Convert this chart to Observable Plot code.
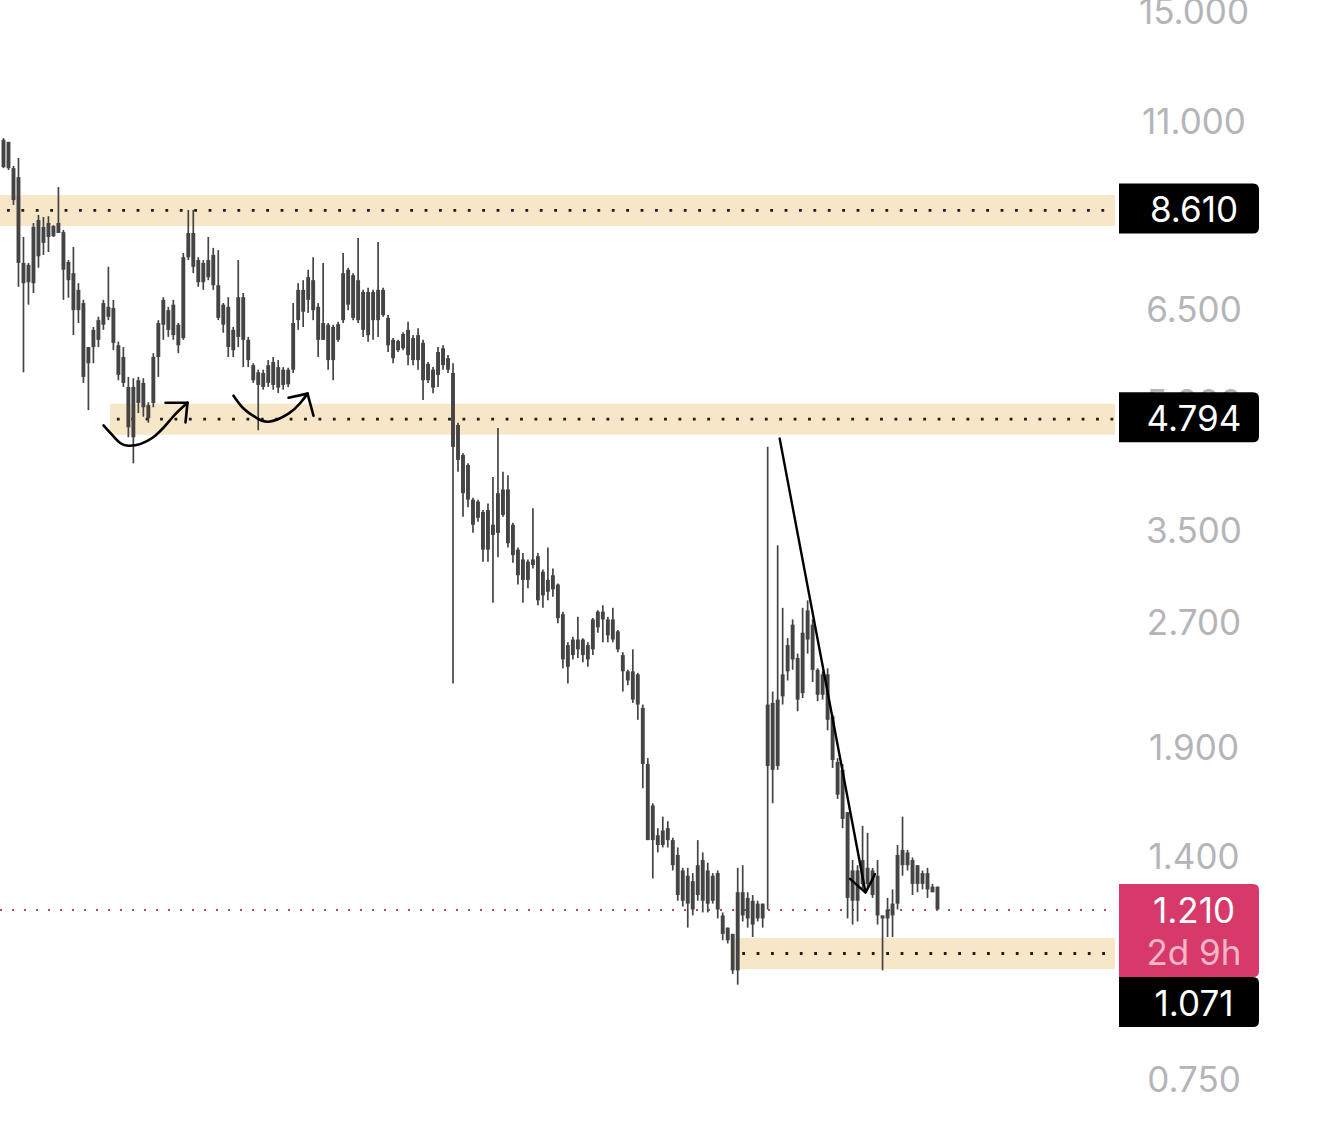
<!DOCTYPE html>
<html><head><meta charset="utf-8">
<script src="https://cdn.jsdelivr.net/npm/d3@7"></script>
<script src="https://cdn.jsdelivr.net/npm/@observablehq/plot@0.6"></script>
<style>
html,body{margin:0;padding:0;background:#fff;}
#chart{width:1320px;height:1146px;overflow:hidden;}
</style></head><body><div id="chart"></div>
<script>
// Candle values (one candle per index)
const high = [
10.53,10.42,9.74,9.96,7.98,7.42,8.30,8.49,8.44,8.46,
8.25,9.18,8.14,7.48,7.76,7.01,6.69,5.86,6.20,6.38,
6.69,7.34,6.69,5.95,5.86,5.39,5.37,5.39,5.37,5.02,
5.76,6.32,6.74,6.56,6.69,6.27,7.63,8.61,8.61,7.54,
7.48,7.98,7.74,7.69,6.63,6.74,6.20,7.48,6.82,6.03,
5.60,5.50,5.50,5.65,5.70,5.65,5.54,5.53,6.63,7.01,
7.07,7.28,7.54,6.63,7.42,6.27,6.24,6.29,7.63,7.32,
7.21,7.96,6.88,6.92,6.88,7.87,6.92,6.41,6.01,5.98,
6.11,6.29,6.06,6.18,5.98,5.62,5.54,5.86,5.89,5.73,
5.60,4.74,4.35,4.23,3.84,3.82,3.71,3.78,4.07,4.67,
4.13,4.09,3.58,3.34,3.29,3.23,3.73,3.29,3.14,3.34,
3.15,3.02,2.79,2.56,2.60,2.75,2.59,2.56,2.74,2.80,
2.84,2.75,2.82,2.65,2.49,2.37,2.51,2.35,2.15,1.85,
1.63,1.52,1.57,1.55,1.48,1.44,1.36,1.36,1.34,1.47,
1.42,1.38,1.34,1.35,1.20,1.15,1.13,1.36,1.37,1.27,
1.26,1.24,1.23,4.43,2.23,3.36,2.82,2.59,2.73,2.48,
2.82,2.88,2.73,2.38,2.36,2.38,2.09,1.85,1.82,1.59,
1.39,1.37,1.53,1.50,1.36,1.39,1.19,1.25,1.28,1.45,
1.57,1.43,1.40,1.37,1.35,1.36,1.30,1.29
];
const low = [
9.68,9.63,8.73,6.94,5.46,6.60,6.82,7.32,7.59,7.65,
7.98,8.07,6.69,6.73,6.06,6.27,5.30,4.91,5.60,5.86,
6.15,6.32,5.81,5.34,5.24,4.55,4.23,4.87,4.82,4.74,
4.95,5.39,5.98,6.03,5.98,5.76,5.98,7.48,7.21,6.94,
6.88,7.07,6.88,6.32,6.10,5.70,5.70,5.86,5.54,5.54,
5.30,4.64,5.20,5.24,5.20,5.15,5.20,5.24,5.45,6.15,
6.20,6.45,6.32,5.70,5.98,5.50,5.34,5.95,6.27,6.50,
6.32,6.27,6.03,5.95,5.98,6.03,6.38,5.78,5.60,5.78,
5.81,5.57,5.57,5.50,5.05,5.30,5.15,5.24,5.50,5.45,
2.28,4.13,3.64,3.74,3.48,3.59,3.21,3.21,2.86,3.25,
3.64,3.34,3.20,3.01,2.86,2.98,3.15,2.84,2.82,2.88,
2.91,2.70,2.38,2.28,2.44,2.45,2.42,2.39,2.47,2.63,
2.56,2.56,2.56,2.49,2.23,2.27,2.16,2.06,1.70,1.47,
1.32,1.42,1.44,1.44,1.35,1.24,1.22,1.15,1.19,1.24,
1.20,1.20,1.23,1.18,1.11,1.10,1.01,0.98,1.17,1.15,
1.12,1.17,1.15,1.21,1.63,1.79,2.15,2.30,2.37,2.11,
2.19,2.48,2.29,2.17,2.18,2.00,1.80,1.65,1.52,1.18,
1.16,1.17,1.28,1.28,1.25,1.16,1.02,1.12,1.12,1.21,
1.33,1.35,1.26,1.27,1.28,1.25,1.27,1.21
];
const open = [
10.48,10.42,9.68,9.44,7.42,7.38,8.21,8.37,8.21,8.30,
8.23,8.30,8.09,7.44,7.21,6.88,6.63,5.86,6.15,6.32,
6.63,6.56,6.54,5.89,5.70,5.24,5.24,5.34,5.30,4.98,
5.70,6.27,6.69,6.50,6.60,6.24,7.54,8.07,8.07,7.48,
7.42,7.48,7.59,6.97,6.60,6.56,6.15,6.74,6.74,5.98,
5.57,5.46,5.45,5.57,5.62,5.54,5.50,5.50,6.27,6.88,
6.88,7.13,7.07,6.56,6.27,6.24,6.20,6.25,7.21,7.28,
7.17,7.07,6.84,6.84,6.84,6.88,6.88,6.36,5.98,5.96,
6.08,6.15,6.01,6.06,5.93,5.59,5.50,5.78,5.84,5.68,
5.45,4.71,4.33,4.21,3.82,3.80,3.69,3.71,3.56,3.89,
3.93,3.93,3.56,3.32,3.23,3.21,3.23,3.26,3.12,3.05,
3.09,3.01,2.77,2.54,2.58,2.58,2.58,2.54,2.73,2.79,
2.79,2.73,2.73,2.64,2.47,2.36,2.36,2.34,2.13,1.82,
1.62,1.49,1.51,1.52,1.47,1.41,1.35,1.33,1.31,1.37,
1.39,1.35,1.33,1.34,1.19,1.15,1.13,1.27,1.27,1.25,
1.24,1.23,1.23,2.15,2.16,2.18,2.34,2.54,2.69,2.45,
2.63,2.80,2.69,2.37,2.34,2.34,2.08,1.83,1.79,1.59,
1.35,1.35,1.39,1.36,1.35,1.33,1.19,1.21,1.23,1.41,
1.43,1.42,1.39,1.37,1.34,1.34,1.29,1.29
];
const close = [
9.71,9.68,8.85,7.42,7.01,7.03,7.01,7.56,7.85,7.98,
8.00,8.07,7.28,7.07,6.50,6.50,5.39,5.60,5.86,5.98,
6.24,6.38,5.93,5.42,5.30,4.68,4.55,5.01,4.95,4.80,
5.01,5.70,6.24,6.15,6.06,5.89,6.01,7.54,7.34,7.03,
7.03,7.13,6.97,6.36,6.24,5.86,5.81,6.03,5.98,5.65,
5.34,5.27,5.24,5.30,5.27,5.23,5.27,5.28,5.50,6.32,
6.47,6.69,6.50,5.98,5.98,5.65,5.65,5.98,6.32,6.60,
6.36,6.32,6.15,6.06,6.32,6.32,6.41,5.89,5.68,5.81,
5.84,5.73,5.65,5.65,5.34,5.34,5.23,5.42,5.57,5.50,
4.43,4.27,3.89,3.82,3.56,3.63,3.32,3.32,3.46,3.48,
3.66,3.38,3.27,3.09,3.05,3.05,3.18,2.88,2.92,2.95,
2.97,2.74,2.44,2.39,2.47,2.51,2.47,2.44,2.51,2.67,
2.73,2.61,2.58,2.51,2.36,2.30,2.18,2.15,1.82,1.47,
1.47,1.45,1.45,1.47,1.37,1.26,1.24,1.23,1.21,1.26,
1.24,1.23,1.24,1.21,1.13,1.11,1.02,1.02,1.19,1.18,
1.16,1.18,1.18,1.81,1.79,1.81,2.20,2.36,2.44,2.18,
2.22,2.58,2.37,2.21,2.21,2.06,1.84,1.67,1.56,1.25,
1.24,1.24,1.30,1.30,1.26,1.19,1.18,1.18,1.19,1.23,
1.37,1.37,1.30,1.30,1.30,1.28,1.27,1.21
];

// Axis tick values and level lines
const yTicks = [0.75, 1.4, 1.9, 2.7, 3.5, 5, 6.5, 11, 15];
const levels = [8.61, 4.794, 1.071];
const levelStart = [-0.6, 21.4, 146.6];   // candle index where each zone begins
const lastPrice = 1.21;
const countdown = "2d 9h";

// Hand-drawn annotations (candle index, price)
const curve1 = [[20.02, 4.71], [22.42, 4.54], [25.03, 4.45], [29.83, 4.55], [33.84, 4.82], [36.84, 5.02]];
const curve2 = [[46.05, 5.12], [48.05, 4.94], [50.45, 4.82], [53.06, 4.76], [57.06, 4.87], [59.47, 5.02], [60.87, 5.15]];
const headWings = [
  {x1: 36.84, y1: 5.02, x2: 32.44, y2: 5.02},
  {x1: 36.84, y1: 5.02, x2: 36.44, y2: 4.75},
  {x1: 60.87, y1: 5.15, x2: 57.06, y2: 5.09},
  {x1: 60.87, y1: 5.15, x2: 62.07, y2: 4.84}
];
const trendArrow = [{x1: 155.4, y1: 4.54, x2: 172.6, y2: 1.27}];

const xMin = -0.6, xMax = 222.64;
const candles = high.map((h, i) => ({i, high: h, low: low[i], open: open[i], close: close[i]}));
const INK = "#444444";

const plot = Plot.plot({
  width: 1320, height: 1146,
  marginLeft: 0, marginRight: 205, marginTop: 0, marginBottom: 0,
  style: {fontFamily: "Inter, 'Helvetica Neue', Arial, sans-serif", fontSize: "35px", background: "#fff"},
  x: {type: "linear", domain: [xMin, xMax], axis: null},
  y: {type: "log", domain: [0.75, 15], range: [1080, 12], axis: null},
  marks: [
    Plot.ruleY(levels, {y: d => d, x1: (d, i) => levelStart[i], x2: () => xMax, stroke: "#f8e6c8", strokeWidth: 31}),
    Plot.ruleY(levels, {y: d => d, x1: (d, i) => levelStart[i] + 1.4, x2: () => xMax, stroke: "#1c1c1c", strokeWidth: 2.8, strokeDasharray: "2.8 11.6"}),
    Plot.ruleY([lastPrice], {y: d => d, x1: () => xMin, x2: () => xMax, stroke: "#c4426f", strokeWidth: 2, strokeDasharray: "2 10"}),
    Plot.ruleX(candles, {x: "i", y1: "low", y2: "high", stroke: INK, strokeWidth: 1.7}),
    Plot.ruleX(candles, {x: "i", y1: "open", y2: "close", stroke: INK, strokeWidth: 3.9}),
    Plot.line(curve1, {x: d => d[0], y: d => d[1], curve: "natural", stroke: "#000", strokeWidth: 2.6, strokeLinecap: "round"}),
    Plot.line(curve2, {x: d => d[0], y: d => d[1], curve: "natural", stroke: "#000", strokeWidth: 2.6, strokeLinecap: "round"}),
    Plot.link(headWings, {x1: "x1", y1: "y1", x2: "x2", y2: "y2", stroke: "#000", strokeWidth: 2.6, strokeLinecap: "round"}),
    Plot.arrow(trendArrow, {x1: "x1", y1: "y1", x2: "x2", y2: "y2", headLength: 13, headAngle: 75, stroke: "#000", strokeWidth: 2.4}),
    Plot.axisY(yTicks, {anchor: "right", tickSize: 0, tickPadding: 78.5, textAnchor: "middle", fontVariant: "normal",
      tickFormat: d => d.toFixed(3), fill: "#b4b4b9", fontSize: 35})
  ]
});
document.getElementById("chart").appendChild(plot);

// Price tags on the right, positioned with the plot's own y scale
const ys = plot.scale("y");
const svg = d3.select(plot);
const bx0 = 1119, bx1 = 1259, r = 6, tx = 1194;
function tag(top, h, fill) {
  const b = top + h;
  svg.append("path")
    .attr("d", `M${bx0},${top}H${bx1 - r}Q${bx1},${top} ${bx1},${top + r}V${b - r}Q${bx1},${b} ${bx1 - r},${b}H${bx0}Z`)
    .attr("fill", fill);
}
function label(txt, y, fill) {
  svg.append("text").attr("x", tx).attr("y", y).attr("text-anchor", "middle")
    .attr("fill", fill).style("font-size", "35px").text(txt);
}
[levels[0], levels[1]].forEach(v => {
  const c = ys.apply(v) - 1.5;
  tag(c - 25, 50, "#000");
  label(v.toFixed(3), c + 13.5, "#fff");
});
const pTop = ys.apply(lastPrice) - 25.5;
tag(pTop, 93, "#d6396a");
label(lastPrice.toFixed(3), pTop + 39, "#fff");
label(countdown, pTop + 81, "#f8b6c9");
const lTop = Math.max(ys.apply(levels[2]) - 26.5, pTop + 93);
tag(lTop, 50, "#000");
label(levels[2].toFixed(3), lTop + 39, "#fff");
</script></body></html>
